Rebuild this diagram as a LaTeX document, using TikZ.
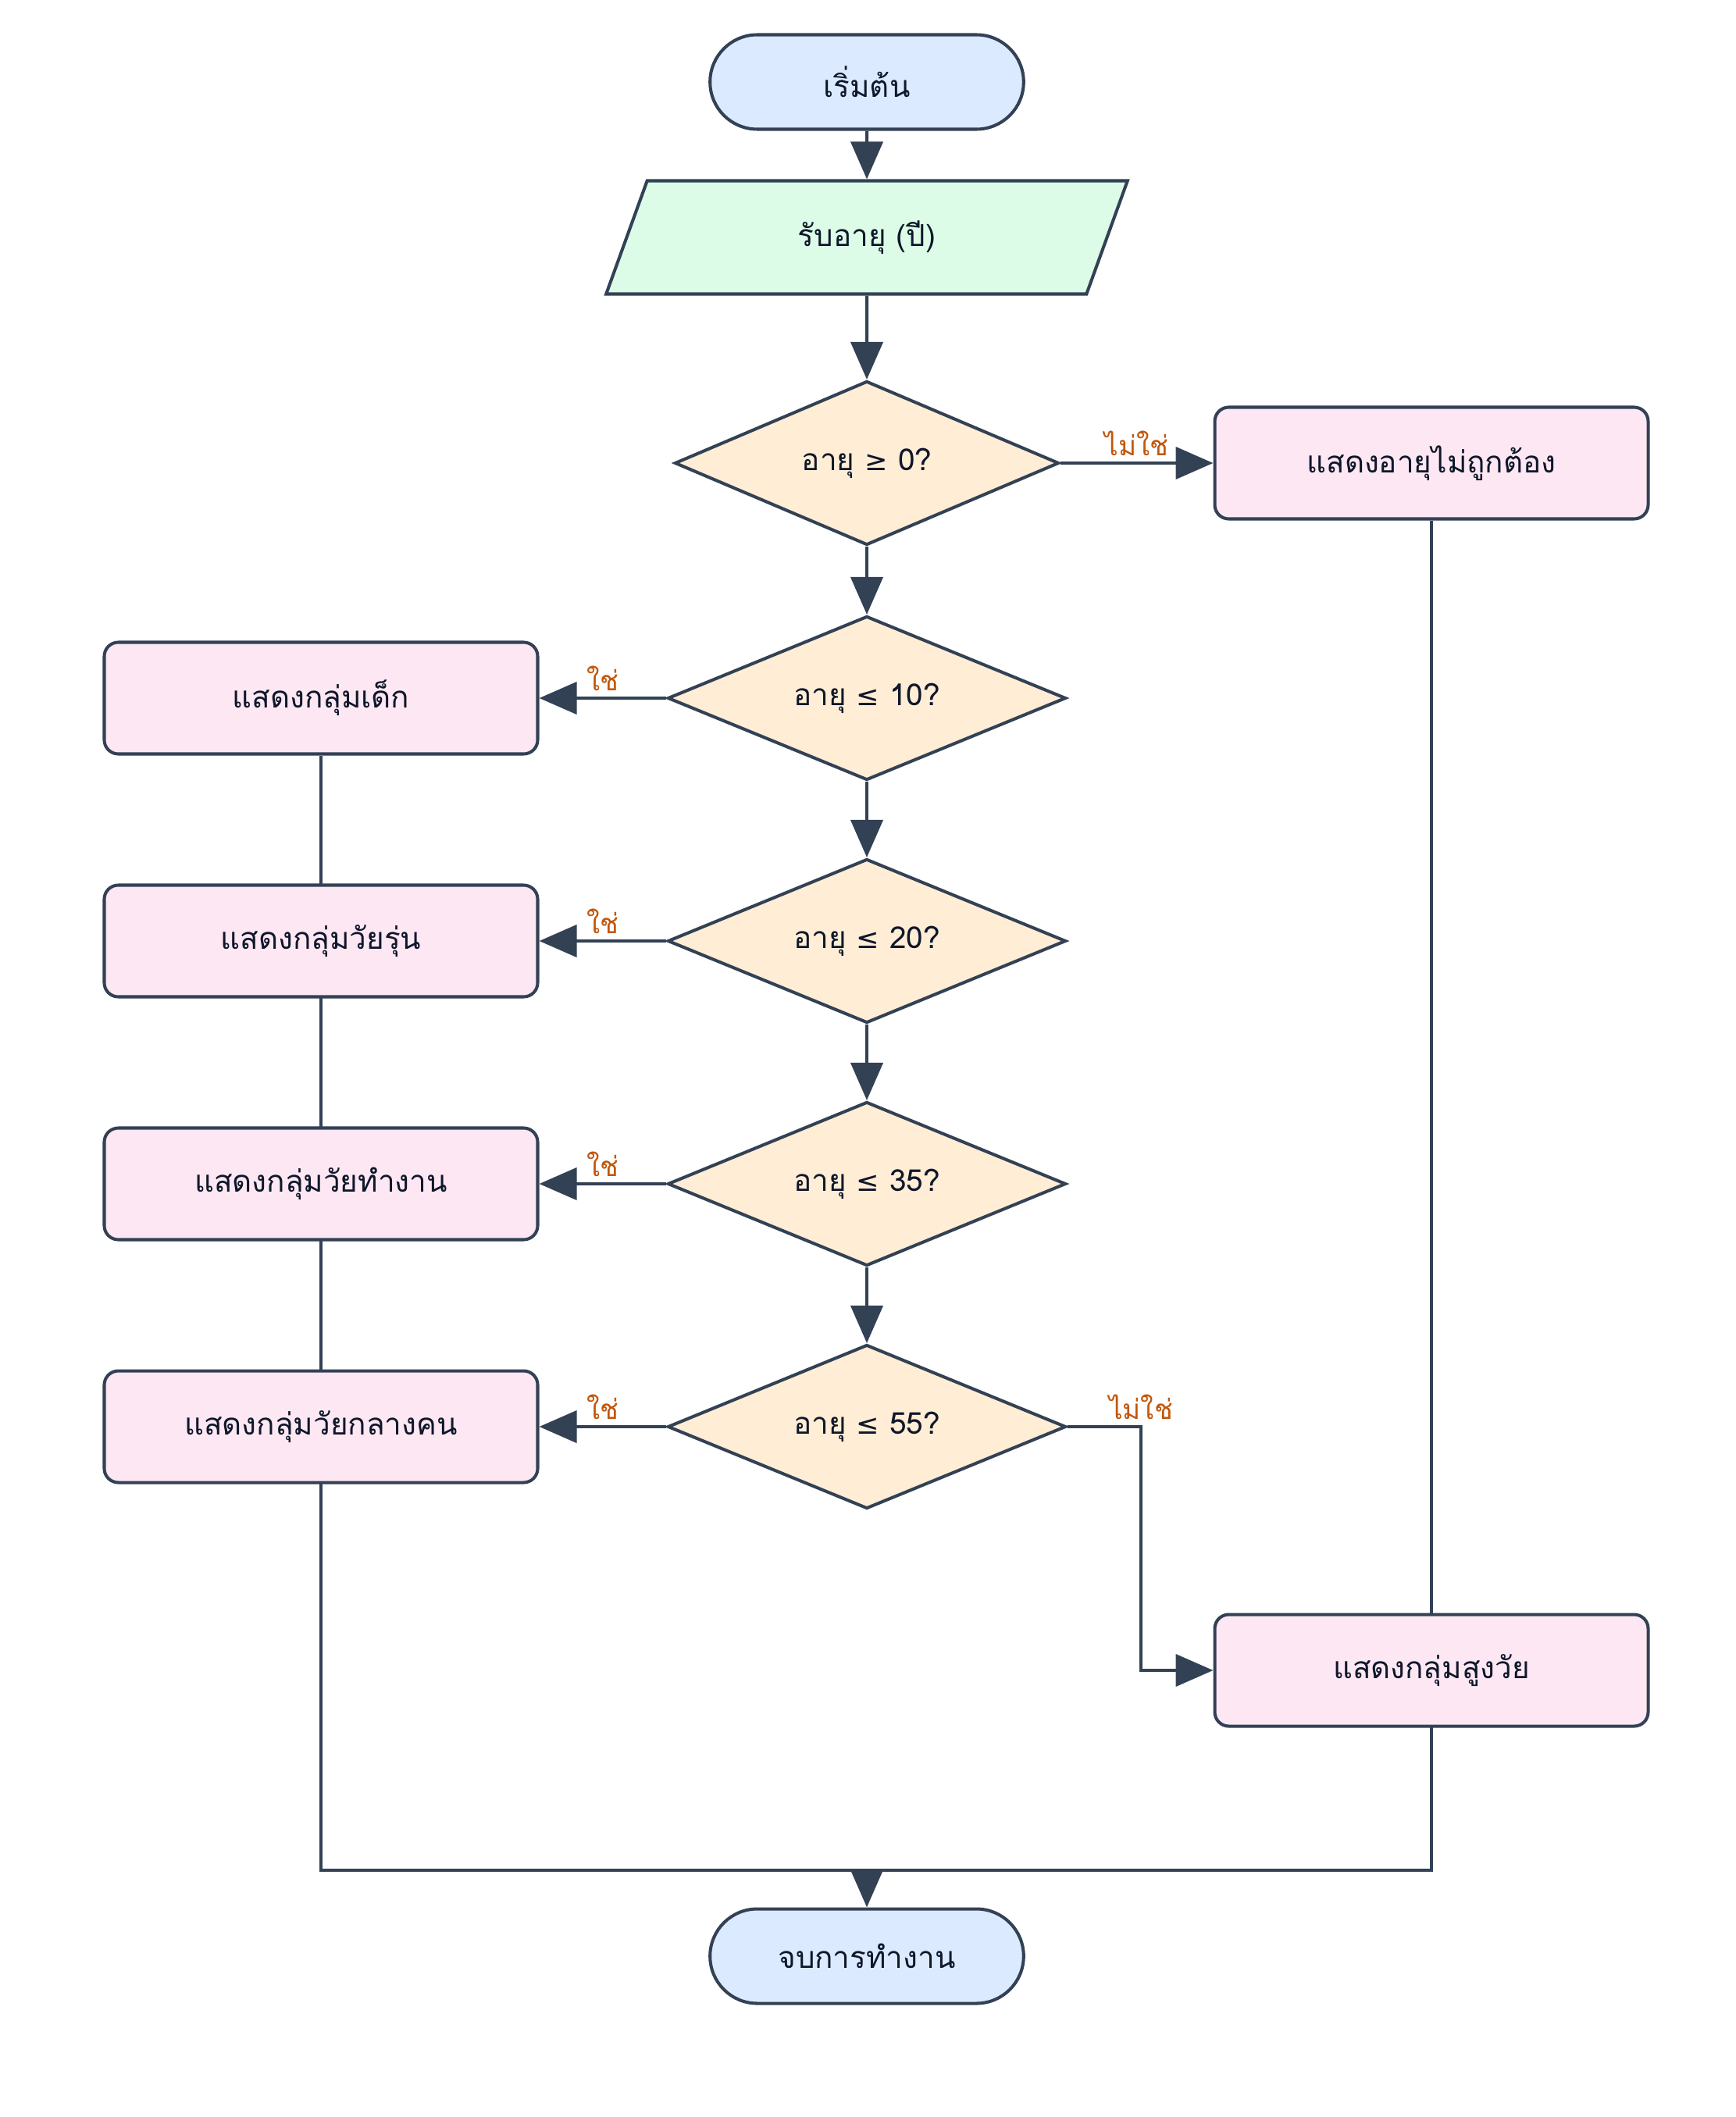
\documentclass[tikz,border=0pt]{standalone}
\usepackage{fontspec}
\setmainfont{DejaVu Sans}
\newfontfamily\thaifont[Script=Thai]{Loma}
\usetikzlibrary{arrows.meta}
\usetikzlibrary{shapes.geometric}
\usetikzlibrary{shapes.misc}
\usetikzlibrary{backgrounds}
\definecolor{edgecol}{HTML}{334155}
\definecolor{txtcol}{HTML}{0F172A}
\definecolor{labcol}{HTML}{C2570C}
\definecolor{termfill}{HTML}{DBEAFE}
\definecolor{iofill}{HTML}{DCFCE7}
\definecolor{askfill}{HTML}{FFEDD5}
\definecolor{showfill}{HTML}{FCE7F3}

\begin{document}
\begin{tikzpicture}[
    every node/.style={font=\thaifont\fontsize{11}{13}\selectfont, text=txtcol},
    line width=1.15pt, draw=edgecol,
    term/.style={rounded rectangle, draw=edgecol, fill=termfill, minimum width=4.25cm, minimum height=1.21cm},
    inbox/.style={trapezium, trapezium left angle=69, trapezium right angle=111, trapezium stretches=true,
        draw=edgecol, fill=iofill, minimum width=6.68cm, minimum height=1.45cm, inner sep=0pt},
    ask/.style={diamond, shape aspect=2.43, draw=edgecol, fill=askfill, minimum width=5.1cm, minimum height=2.1cm, inner sep=0pt},
    showbox/.style={rectangle, rounded corners=0.18cm, draw=edgecol, fill=showfill, minimum width=5.55cm, minimum height=1.43cm},
    lab/.style={font=\thaifont\fontsize{10}{12}\selectfont, text=labcol, inner sep=2pt},
    flow/.style={draw=edgecol, -{Triangle[length=0.48cm,width=0.41cm]}},
    tieline/.style={draw=edgecol, line width=1.15pt}
]
\useasboundingbox (0,0) rectangle (22.22,-27.11);

\node[term] (start) at (11.10,-1.05) {เริ่มต้น};
\node[inbox] (age) at (11.10,-3.04) {รับอายุ (ปี)};
\node[ask, minimum width=4.92cm] (q0) at (11.10,-5.93) {อายุ {\fontspec{DejaVu Sans}\fontsize{10}{12}\selectfont ≥} 0?};
\node[showbox] (bad) at (18.33,-5.93) {แสดงอายุไม่ถูกต้อง};
\node[ask] (q10) at (11.10,-8.94) {อายุ {\fontspec{DejaVu Sans}\fontsize{10}{12}\selectfont ≤} 10?};
\node[showbox] (kid) at (4.11,-8.94) {แสดงกลุ่มเด็ก};
\node[ask] (q20) at (11.10,-12.05) {อายุ {\fontspec{DejaVu Sans}\fontsize{10}{12}\selectfont ≤} 20?};
\node[showbox] (teen) at (4.11,-12.05) {แสดงกลุ่มวัยรุ่น};
\node[ask] (q35) at (11.10,-15.16) {อายุ {\fontspec{DejaVu Sans}\fontsize{10}{12}\selectfont ≤} 35?};
\node[showbox] (work) at (4.11,-15.16) {แสดงกลุ่มวัยทำงาน};
\node[ask] (q55) at (11.10,-18.27) {อายุ {\fontspec{DejaVu Sans}\fontsize{10}{12}\selectfont ≤} 55?};
\node[showbox] (mid) at (4.11,-18.27) {แสดงกลุ่มวัยกลางคน};
\node[showbox] (old) at (18.33,-21.39) {แสดงกลุ่มสูงวัย};
\node[term] (stop) at (11.10,-25.05) {จบการทำงาน};
\coordinate (merge) at (11.10,-23.95);

\draw[flow] (start) -- (age);
\draw[flow] (age) -- (q0);
\draw[flow] (q0) -- node[lab,above] (n0) {ไม่ใช่} (bad);
\draw[flow] (q0) -- (q10);
\draw[flow] (q10) -- node[lab,above] (y10) {ใช่} (kid);
\draw[flow] (q10) -- (q20);
\draw[flow] (q20) -- node[lab,above] (y20) {ใช่} (teen);
\draw[flow] (q20) -- (q35);
\draw[flow] (q35) -- node[lab,above] (y35) {ใช่} (work);
\draw[flow] (q35) -- (q55);
\draw[flow] (q55) -- node[lab,above] (y55) {ใช่} (mid);
\draw[flow] (q55.east) -- (14.61,-18.27) node[lab,above] (n55) {ไม่ใช่} |- (old.west);

\begin{scope}[on background layer]
\draw[tieline] (kid.south) -- (kid |- merge) -- (merge);
\draw[tieline] (teen.south) -- (teen |- merge) -- (merge);
\draw[tieline] (work.south) -- (work |- merge) -- (merge);
\draw[tieline] (mid.south) -- (mid |- merge) -- (merge);
\draw[tieline] (bad.south) -- (bad |- merge) -- (merge);
\draw[tieline] (old.south) -- (old |- merge) -- (merge);
\end{scope}
\draw[flow] (merge) -- (stop);
\end{tikzpicture}
\end{document}
